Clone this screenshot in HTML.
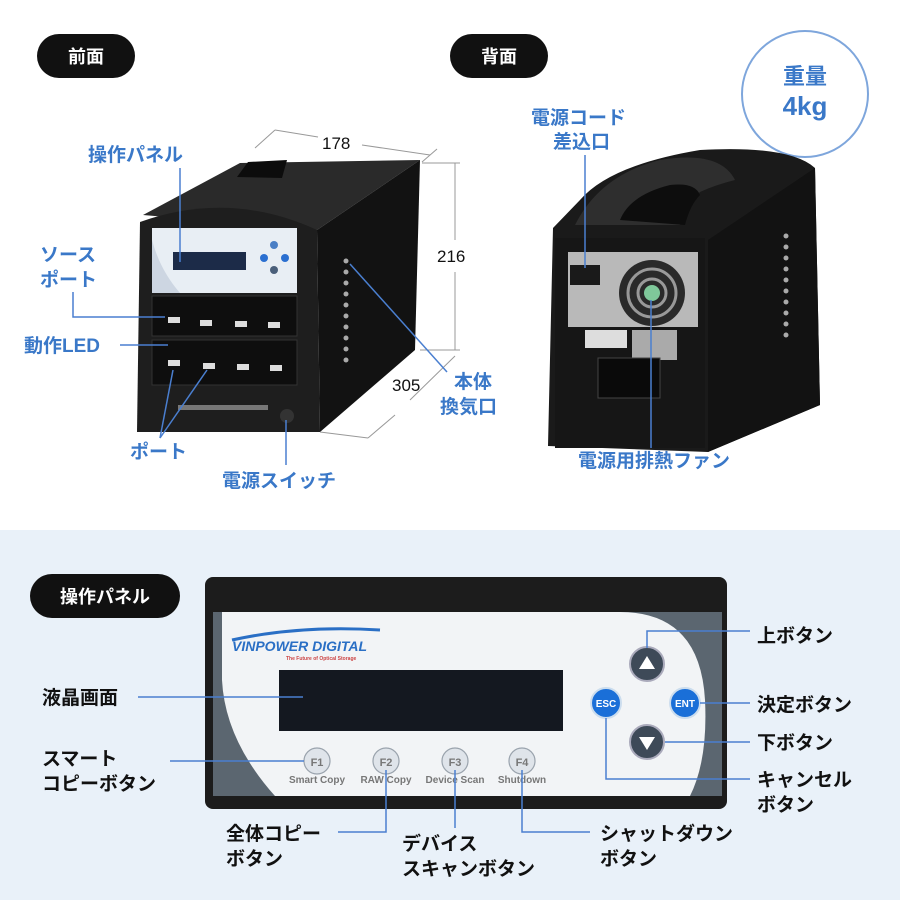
<!DOCTYPE html>
<html><head><meta charset="utf-8"><style>
html,body{margin:0;padding:0;width:900px;height:900px;overflow:hidden;background:#fff}
svg{display:block}
text{font-family:"Liberation Sans","Noto Sans CJK JP",sans-serif;font-weight:bold}
</style></head><body>
<svg width="900" height="900" viewBox="0 0 900 900" xmlns="http://www.w3.org/2000/svg">
<rect x="0" y="0" width="900" height="530" fill="#fff"/>
<rect x="0" y="530" width="900" height="370" fill="#e9f1f9"/>

<rect x="37" y="34" width="98" height="44" rx="22" fill="#111"/>
<text x="86" y="63" fill="#fff" font-size="18" text-anchor="middle">前面</text>
<rect x="450" y="34" width="98" height="44" rx="22" fill="#111"/>
<text x="499" y="63" fill="#fff" font-size="18" text-anchor="middle">背面</text>
<rect x="30" y="574" width="150" height="44" rx="22" fill="#111"/>
<text x="105" y="603" fill="#fff" font-size="18" text-anchor="middle">操作パネル</text>

<circle cx="805" cy="94" r="63" fill="#fff" stroke="#7ea6dc" stroke-width="2"/>
<text x="805" y="84" fill="#3a78c8" font-size="22" text-anchor="middle">重量</text>
<text x="805" y="115" fill="#3a78c8" font-size="26" text-anchor="middle">4kg</text>

<!-- FRONT DEVICE -->
<g>
<polygon points="143,215 240,163 420,160 317,230" fill="#2a2a2a"/>
<polygon points="237,177 248,162 287,160 282,178" fill="#0c0c0c"/>
<polygon points="317,230 420,160 415,350 320,432" fill="#121212"/>
<path d="M140,222 Q230,190 317,230 L320,432 L137,432 Z" fill="#1e1e1e"/>
<rect x="152" y="228" width="145" height="65" fill="#cdd6e2"/>
<path d="M152,228 H297 V293 H180 Q160,270 152,240 Z" fill="#e8eef4"/>
<rect x="173" y="252" width="73" height="18" fill="#1c2b48"/>
<circle cx="274" cy="245" r="4" fill="#4a7fc5"/><circle cx="264" cy="258" r="4" fill="#2a6fd0"/><circle cx="285" cy="258" r="4" fill="#2a6fd0"/><circle cx="274" cy="270" r="4" fill="#4a5f7a"/>
<rect x="152" y="296" width="145" height="40" fill="#0e0e0e" stroke="#333"/>
<rect x="152" y="340" width="145" height="45" fill="#0e0e0e" stroke="#333"/>
<g fill="#ddd">
<rect x="168" y="317" width="12" height="6"/><rect x="200" y="320" width="12" height="6"/><rect x="235" y="321" width="12" height="6"/><rect x="268" y="322" width="12" height="6"/>
<rect x="168" y="360" width="12" height="6"/><rect x="203" y="363" width="12" height="6"/><rect x="237" y="364" width="12" height="6"/><rect x="270" y="365" width="12" height="6"/>
</g>
<rect x="178" y="405" width="90" height="5" fill="#777"/>
<circle cx="287" cy="416" r="7" fill="#333"/>
<g fill="#aaa"><circle cx="346" cy="261" r="2.5"/><circle cx="346" cy="272" r="2.5"/><circle cx="346" cy="283" r="2.5"/><circle cx="346" cy="294" r="2.5"/><circle cx="346" cy="305" r="2.5"/><circle cx="346" cy="316" r="2.5"/><circle cx="346" cy="327" r="2.5"/><circle cx="346" cy="338" r="2.5"/><circle cx="346" cy="349" r="2.5"/><circle cx="346" cy="360" r="2.5"/></g>
</g>
<g stroke="#999" stroke-width="1" fill="none">
<line x1="255" y1="148" x2="275" y2="130"/><line x1="275" y1="130" x2="318" y2="137"/><line x1="362" y1="145" x2="430" y2="155"/><line x1="422" y1="162" x2="437" y2="149"/>
<line x1="422" y1="163" x2="460" y2="163"/><line x1="455" y1="163" x2="455" y2="240"/><line x1="455" y1="272" x2="455" y2="350"/><line x1="420" y1="350" x2="460" y2="350"/>
<line x1="320" y1="432" x2="368" y2="438"/><line x1="368" y1="438" x2="395" y2="415"/><line x1="410" y1="400" x2="455" y2="356"/>
</g>
<g fill="#111" font-size="17">
<text x="322" y="149" style="font-weight:500">178</text>
<text x="437" y="262" style="font-weight:500">216</text>
<text x="392" y="391" style="font-weight:500">305</text>
</g>

<!-- BACK DEVICE -->
<g>
<path d="M553,228 L580,200 Q610,165 700,150 Q790,145 815,168 L820,405 L708,452 L548,446 Z" fill="#1a1a1a"/>
<path d="M575,225 Q600,175 660,160 Q720,150 735,180 Q715,185 700,192 Q685,205 680,225 Z" fill="#2e2e2e"/>
<path d="M620,220 Q630,195 670,185 Q695,182 700,195 Q690,205 685,225 Z" fill="#0d0d0d"/>
<polygon points="708,240 815,168 820,405 708,452" fill="#121212"/>
<rect x="555" y="238" width="150" height="210" fill="#161616"/>
<rect x="568" y="252" width="130" height="75" fill="#b9b9b9"/>
<rect x="570" y="265" width="30" height="20" fill="#1a1a1a"/>
<circle cx="652" cy="293" r="33" fill="#2a2a2a"/>
<circle cx="652" cy="293" r="24" fill="none" stroke="#999" stroke-width="3"/>
<circle cx="652" cy="293" r="14" fill="none" stroke="#999" stroke-width="3"/>
<circle cx="652" cy="293" r="8" fill="#7fc89a"/>
<rect x="585" y="330" width="42" height="18" fill="#ddd"/>
<rect x="632" y="330" width="45" height="30" fill="#aaa"/>
<rect x="598" y="358" width="62" height="40" fill="#0a0a0a" stroke="#444"/>
<g fill="#aaa"><circle cx="786" cy="236" r="2.5"/><circle cx="786" cy="247" r="2.5"/><circle cx="786" cy="258" r="2.5"/><circle cx="786" cy="269" r="2.5"/><circle cx="786" cy="280" r="2.5"/><circle cx="786" cy="291" r="2.5"/><circle cx="786" cy="302" r="2.5"/><circle cx="786" cy="313" r="2.5"/><circle cx="786" cy="324" r="2.5"/><circle cx="786" cy="335" r="2.5"/></g>
</g>

<g stroke="#4a7fd0" stroke-width="1.5" fill="none">
<line x1="180" y1="168" x2="180" y2="262"/>
<polyline points="73,292 73,317 165,317"/>
<line x1="120" y1="345" x2="168" y2="345"/>
<line x1="160" y1="438" x2="173" y2="370"/><line x1="160" y1="438" x2="207" y2="370"/>
<line x1="286" y1="420" x2="286" y2="465"/>
<line x1="350" y1="264" x2="447" y2="372"/>
<line x1="585" y1="155" x2="585" y2="268"/>
<line x1="651" y1="300" x2="651" y2="448"/>
</g>
<g fill="#3a78c8" font-size="19">
<text x="88" y="161">操作パネル</text>
<text x="40" y="261">ソース</text><text x="40" y="286">ポート</text>
<text x="24" y="352">動作LED</text>
<text x="130" y="458">ポート</text>
<text x="222" y="487">電源スイッチ</text>
<text x="454" y="388">本体</text><text x="440" y="413">換気口</text>
<text x="531" y="124">電源コード</text><text x="553" y="148">差込口</text>
<text x="578" y="467">電源用排熱ファン</text>
</g>

<!-- PANEL -->
<rect x="205" y="577" width="522" height="232" rx="8" fill="#1c1c1c"/>
<rect x="213" y="612" width="509" height="184" fill="#5b6670"/>
<path d="M222,612 H620 Q700,612 705,700 Q708,760 690,796 H275 Q225,740 222,680 Z" fill="#f2f4f6"/>
<text x="232" y="651" fill="#2a6fc5" font-size="14" font-style="italic" font-weight="900">VINPOWER DIGITAL</text>
<path d="M232,640 Q300,625 380,630" stroke="#2a6fc5" stroke-width="3" fill="none"/>
<text x="286" y="660" fill="#c44" font-size="5" font-weight="normal">The Future of Optical Storage</text>
<rect x="279" y="670" width="284" height="61" fill="#141820"/>
<g fill="#dfe4ea" stroke="#9aa3ad" stroke-width="1.2">
<circle cx="317" cy="761" r="13"/><circle cx="386" cy="761" r="13"/><circle cx="455" cy="761" r="13"/><circle cx="522" cy="761" r="13"/>
</g>
<g fill="#777" font-size="11" text-anchor="middle">
<text x="317" y="766" font-weight="normal">F1</text><text x="386" y="766" font-weight="normal">F2</text><text x="455" y="766" font-weight="normal">F3</text><text x="522" y="766" font-weight="normal">F4</text>
<text x="317" y="783" font-size="10" font-weight="normal">Smart Copy</text><text x="386" y="783" font-size="10" font-weight="normal">RAW Copy</text><text x="455" y="783" font-size="10" font-weight="normal">Device Scan</text><text x="522" y="783" font-size="10" font-weight="normal">Shutdown</text>
</g>
<circle cx="647" cy="664" r="17" fill="#3e4a58" stroke="#aab" stroke-width="2"/>
<polygon points="647,656 655,669 639,669" fill="#fff"/>
<circle cx="647" cy="742" r="17" fill="#3e4a58" stroke="#aab" stroke-width="2"/>
<polygon points="647,750 655,737 639,737" fill="#fff"/>
<circle cx="606" cy="703" r="15" fill="#1a6fd8" stroke="#cde" stroke-width="2"/>
<circle cx="685" cy="703" r="15" fill="#1a6fd8" stroke="#cde" stroke-width="2"/>
<text x="606" y="707" fill="#fff" font-size="10" text-anchor="middle">ESC</text>
<text x="685" y="707" fill="#fff" font-size="10" text-anchor="middle">ENT</text>

<g stroke="#4a7fd0" stroke-width="1.5" fill="none">
<line x1="138" y1="697" x2="303" y2="697"/>
<line x1="170" y1="761" x2="304" y2="761"/>
<polyline points="338,832 386,832 386,770"/>
<line x1="455" y1="770" x2="455" y2="828"/>
<polyline points="522,770 522,832 590,832"/>
<polyline points="647,648 647,631 750,631"/>
<line x1="700" y1="703" x2="750" y2="703"/>
<line x1="665" y1="742" x2="750" y2="742"/>
<polyline points="606,718 606,779 750,779"/>
</g>
<g fill="#111" font-size="19">
<text x="42" y="704">液晶画面</text>
<text x="42" y="765">スマート</text><text x="42" y="790">コピーボタン</text>
<text x="226" y="840">全体コピー</text><text x="226" y="865">ボタン</text>
<text x="402" y="850">デバイス</text><text x="402" y="875">スキャンボタン</text>
<text x="600" y="840">シャットダウン</text><text x="600" y="865">ボタン</text>
<text x="757" y="642">上ボタン</text>
<text x="757" y="711">決定ボタン</text>
<text x="757" y="749">下ボタン</text>
<text x="757" y="786">キャンセル</text><text x="757" y="811">ボタン</text>
</g>
</svg>
</body></html>
